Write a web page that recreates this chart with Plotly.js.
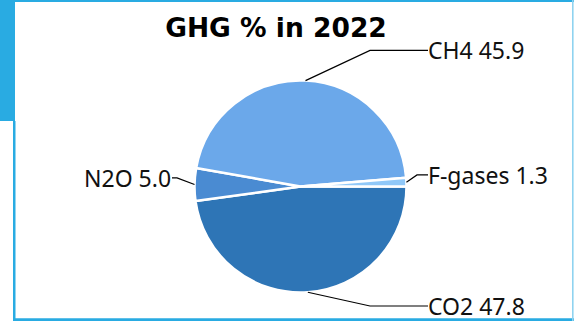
<!DOCTYPE html>
<html>
<head>
<meta charset="utf-8">
<script src="https://cdn.plot.ly/plotly-3.0.1.min.js"></script>
<style>html,body{margin:0;padding:0;background:#fff;}#chart{width:574px;height:324px;}</style>
</head>
<body>
<div id="chart"></div>
<script>
// ---- data ----
const gases = ["CO2", "N2O", "CH4", "F-gases"];
const shares = [47.8, 5.0, 45.9, 1.3];
const sliceColors = ["#2e75b6", "#4a8bd2", "#6ba8ea", "#90c8f8"];
const chartTitle = "GHG % in 2022";

// ---- layout geometry (pixels) ----
const W = 574, H = 324;
const CX = 300.5, CY = 186.5, R = 106;
const frameBlue = "#29abe2";
const px = (x) => x / W;
const py = (y) => 1 - y / H;

const total = shares.reduce((a, b) => a + b, 0);
const annotations = [];
const shapes = [];

// frame
shapes.push({type: "rect", xref: "paper", yref: "paper", x0: px(0), x1: px(15), y0: py(121), y1: py(0), fillcolor: frameBlue, line: {width: 0}});
shapes.push({type: "rect", xref: "paper", yref: "paper", x0: px(13), x1: px(15.5), y0: py(321), y1: py(121), fillcolor: frameBlue, line: {width: 0}});
shapes.push({type: "rect", xref: "paper", yref: "paper", x0: px(13), x1: px(574), y0: py(2), y1: py(0), fillcolor: frameBlue, line: {width: 0}});
shapes.push({type: "rect", xref: "paper", yref: "paper", x0: px(13), x1: px(574), y0: py(321), y1: py(318.3), fillcolor: frameBlue, line: {width: 0}});
shapes.push({type: "rect", xref: "paper", yref: "paper", x0: px(572), x1: px(573.6), y0: py(321), y1: py(0), fillcolor: "#8fd3f0", line: {width: 0}});

// labels + connectors derived from the slice angles
let cum = 0;
shares.forEach((v, i) => {
  const mid = (cum + v / 2) / total;
  cum += v;
  const th = mid * 2 * Math.PI; // clockwise from 3 o'clock (screen coords)
  const c = Math.cos(th), s = Math.sin(th);
  const ex = CX + R * c, ey = CY + R * s;
  let ly = CY + (R + 30) * s - 6 * Math.abs(c);
  ly = Math.min(ly, 306);
  const right = c >= 0;
  const lx = right ? 428 : 172;
  const crook = right ? 370 : 230;
  let bx;
  if (right) bx = (crook > lx || crook < ex) ? lx - 11 : crook;
  else bx = (crook < lx || crook > ex) ? lx + 5 : crook;
  const path = `M ${px(lx)} ${py(ly)} L ${px(bx)} ${py(ly)} L ${px(ex)} ${py(ey)}`;
  shapes.push({type: "path", xref: "paper", yref: "paper", path: path, line: {color: "#000", width: 1.2}});
  annotations.push({
    xref: "paper", yref: "paper", x: px(right ? lx - 2 : lx + 1), y: py(ly),
    xanchor: right ? "left" : "right", yanchor: "middle", showarrow: false,
    text: gases[i] + " " + v.toFixed(1),
    font: {family: "Noto Sans, sans-serif", size: 23, color: "#111"}
  });
});

const trace = {
  type: "pie",
  labels: gases,
  values: shares,
  sort: false,
  direction: "clockwise",
  rotation: 90,
  textinfo: "none",
  hoverinfo: "label+value",
  marker: {colors: sliceColors, line: {color: "#ffffff", width: 2.5}},
  domain: {x: [px(CX - R), px(CX + R)], y: [py(CY + R), py(CY - R)]},
  showlegend: false
};

const layout = {
  width: W, height: H,
  margin: {l: 0, r: 0, t: 0, b: 0},
  paper_bgcolor: "#fff",
  title: {
    text: "<b>" + chartTitle + "</b>",
    x: 276 / W, xanchor: "center",
    y: 1 - 28 / H, yanchor: "middle", yref: "container",
    font: {family: "DejaVu Sans, sans-serif", size: 26.5, color: "#000"}
  },
  shapes: shapes,
  annotations: annotations,
  showlegend: false
};

Plotly.newPlot("chart", [trace], layout, {displayModeBar: false, staticPlot: true});
</script>
</body>
</html>
